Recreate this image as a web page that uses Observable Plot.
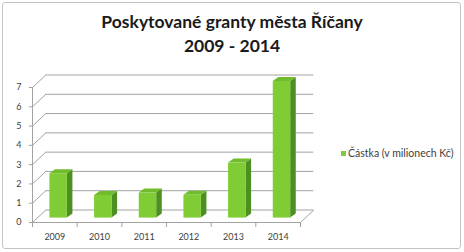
<!DOCTYPE html>
<html><head><meta charset="utf-8">
<script src="https://cdn.jsdelivr.net/npm/d3@7"></script>
<script src="https://cdn.jsdelivr.net/npm/@observablehq/plot@0.6"></script>
<style>
body{margin:0;background:#fff;}
#wrap{position:relative;width:464px;height:252px;overflow:hidden;font-family:Lato,"Open Sans",sans-serif;}
#wrap svg{position:absolute;left:0;top:0;}
#frame{position:absolute;left:2px;top:2px;width:457px;height:245px;border:1px solid #c4c4c4;border-radius:3px;}
.title{position:absolute;left:0;width:464px;text-align:center;font-weight:bold;font-size:17.5px;line-height:20px;color:#1a1a1a;}
#legend{position:absolute;left:341px;top:146px;font-size:10.5px;line-height:14px;color:#404040;white-space:nowrap;}
#legend span.sw{display:inline-block;width:5px;height:5px;background:#80c944;margin-right:2px;vertical-align:1px;}
</style>
</head><body>
<div id="wrap"></div>
<script>
const chartTitle = "Poskytované granty města Říčany";
const chartSubtitle = "2009 - 2014";
const seriesName = "Částka (v milionech Kč)";
const years = ["2009", "2010", "2011", "2012", "2013", "2014"];
const values = [2.3, 1.17, 1.3, 1.18, 2.85, 7.08];
const yTicks = [0, 1, 2, 3, 4, 5, 6, 7];

// 3D projection constants (data units)
const DX = 0.298, DY = 0.648;   // back wall offset
const B = 0.23;                  // bar base (middle depth)
const XL = 0.39, XR = 0.78;      // bar front face within band
const SX = 0.125, SY = 0.207;    // bar depth

const bars = years.map((year, i) => ({year, i, v: values[i]}));
const sidePts = bars.flatMap(d => [
  {year: d.year, x: d.i + XR, y1: B, y2: B + d.v},
  {year: d.year, x: d.i + XR + SX, y1: B + SY, y2: B + d.v + SY}
]);
const topPts = bars.flatMap(d => [
  {year: d.year, y: B + d.v, x1: d.i + XL, x2: d.i + XR},
  {year: d.year, y: B + d.v + SY, x1: d.i + XL + SX, x2: d.i + XR + SX}
]);

const grid = "#a3a3a3";
const front = "#7fcc35", side = "#4e8f22", topc = "#70bc2c";

const plot = Plot.plot({
  width: 464, height: 252,
  marginLeft: 32, marginRight: 164, marginTop: 87, marginBottom: 30,
  style: {fontSize: "9px", fontFamily: "Lato, sans-serif", color: "#404040", background: "transparent"},
  x: {domain: [0, 6], ticks: years.map((_, i) => i + 0.5), tickFormat: d => years[Math.floor(d)], tickSize: 0, tickPadding: 11},
  y: {domain: [0, 7], ticks: yTicks, tickFormat: d => String(d), tickSize: 0, tickPadding: 11},
  marks: [
    Plot.ruleY(yTicks, {y: d => d + DY, x1: DX, x2: 6 + DX, stroke: grid}),
    Plot.link(yTicks, {x1: 0, y1: d => d, x2: DX, y2: d => d + DY, stroke: grid}),
    Plot.link([0], {x1: 6, y1: 0, x2: 6 + DX, y2: DY, stroke: grid}),
    Plot.ruleY([0], {x1: 0, x2: 6, stroke: grid}),
    Plot.ruleX([0], {y1: 0, y2: 7, stroke: grid}),
    Plot.ruleY(yTicks, {x1: -0.07, x2: 0, stroke: grid}),
    Plot.ruleX(d3.range(7), {y1: 0, y2: -0.26, stroke: grid}),
    Plot.areaY(sidePts, {x: "x", y1: "y1", y2: "y2", z: "year", fill: side}),
    Plot.areaX(topPts, {y: "y", x1: "x1", x2: "x2", z: "year", fill: topc}),
    Plot.rect(bars, {x1: d => d.i + XL, x2: d => d.i + XR, y1: B, y2: d => B + d.v, fill: front})
  ]
});

const wrap = document.getElementById("wrap");
wrap.appendChild(plot);
const frame = document.createElement("div"); frame.id = "frame"; wrap.appendChild(frame);
const t1 = document.createElement("div"); t1.className = "title"; t1.style.top = "12px"; t1.textContent = chartTitle; wrap.appendChild(t1);
const t2 = document.createElement("div"); t2.className = "title"; t2.style.top = "36px"; t2.textContent = chartSubtitle; wrap.appendChild(t2);
const lg = document.createElement("div"); lg.id = "legend";
lg.innerHTML = '<span class="sw"></span>';
lg.appendChild(document.createTextNode(seriesName));
wrap.appendChild(lg);
</script>
</body></html>
